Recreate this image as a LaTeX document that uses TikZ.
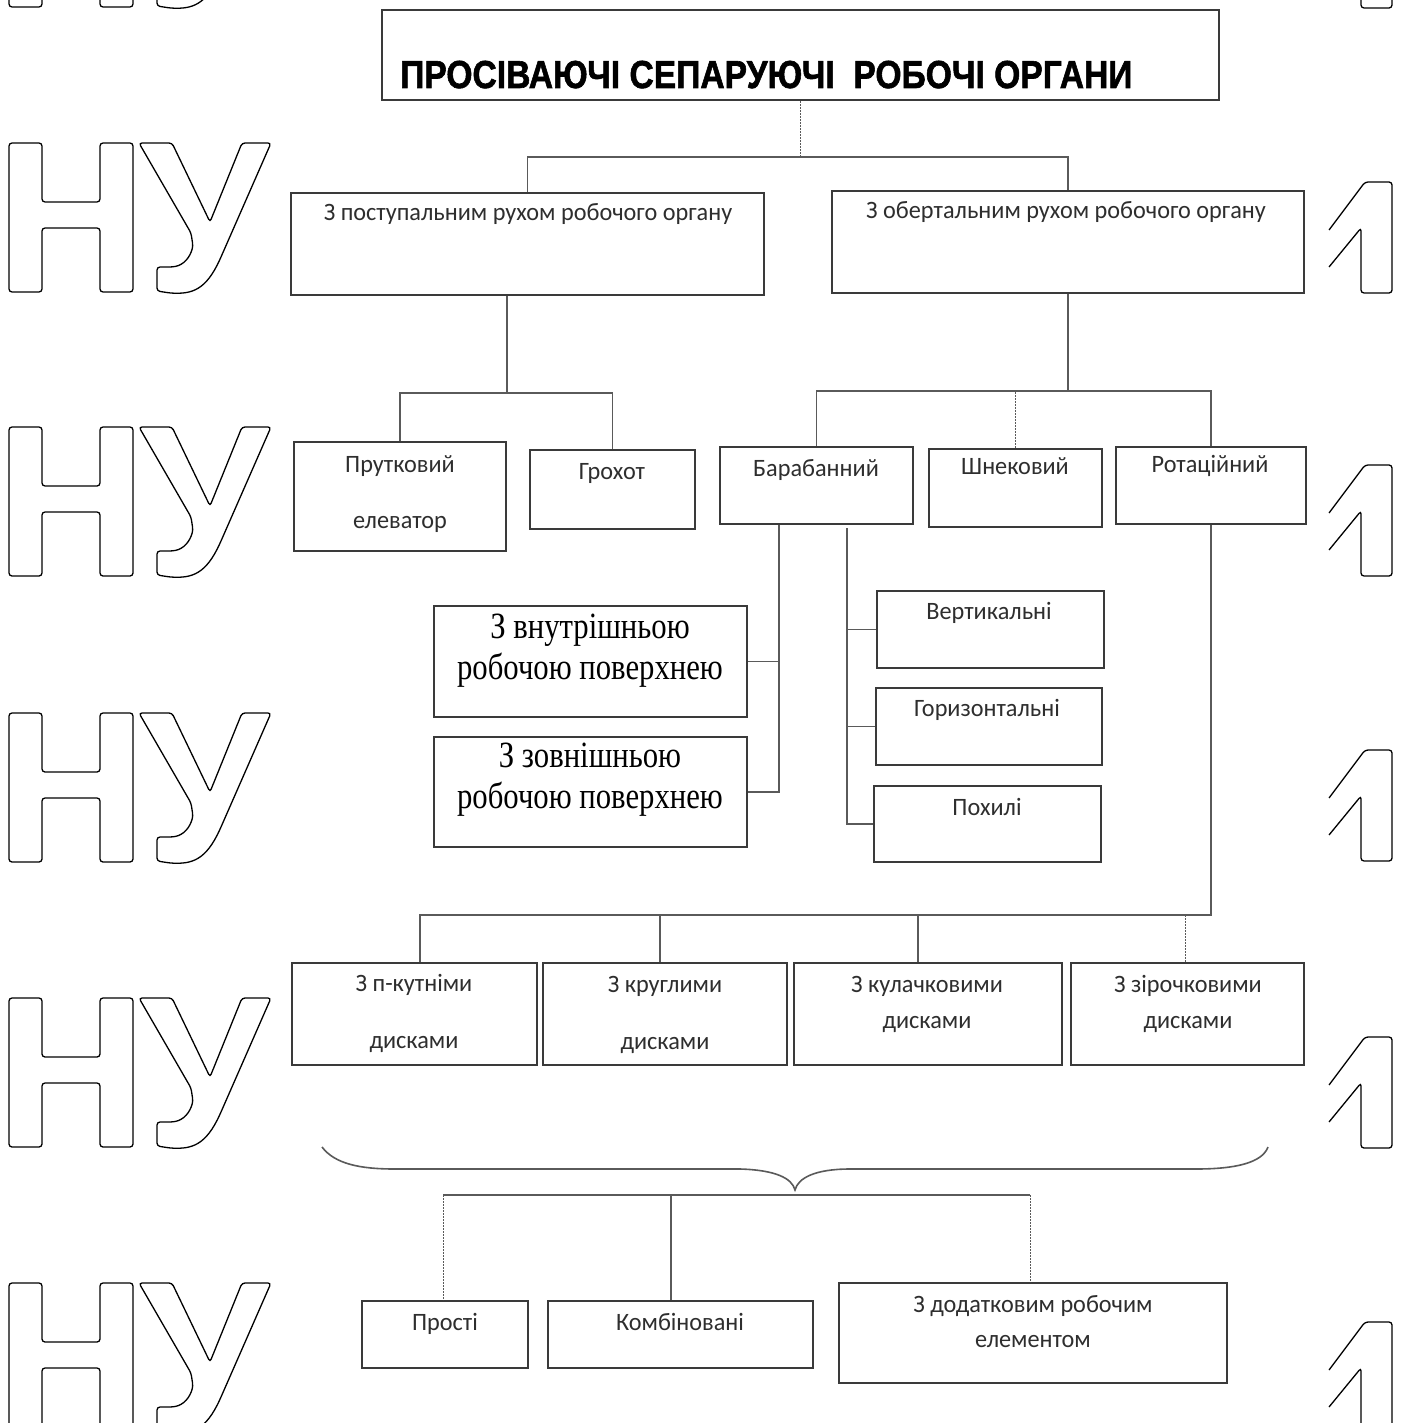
\documentclass[tikz,border=0pt]{standalone}
\usepackage{graphicx}
\usepackage{fontspec}
\setmainfont{Carlito}
\newfontfamily\titlefont{Liberation Sans}[BoldFeatures={FakeBold=1.6}]
\newfontfamily\serffont{Liberation Serif}
\usetikzlibrary{calc}
\definecolor{boxc}{HTML}{3A3A3A}
\definecolor{connc}{HTML}{5A5A5A}
\definecolor{txtc}{HTML}{2E2E2E}
\newcommand\sx[1]{\scalebox{0.97}[1]{#1}}
\newcommand\sr[1]{\scalebox{0.83}[1]{#1}}
\newcommand\mybox[5]{\node[box, minimum width={#4-#2}, minimum height={#5-#3}] (#1) at ({(#2+#4)/2},{(#3+#5)/2}) {};}
\newcommand\wmHU[1]{%
  \draw[wm] (9,#1) -- (42,#1) -- (42,#1+59) -- (100,#1+59) -- (100,#1) -- (133,#1) -- (133,#1+149) -- (100,#1+149) -- (100,#1+85) -- (42,#1+85) -- (42,#1+149) -- (9,#1+149) -- cycle;
  \draw[wm] (139,#1) -- (172,#1) -- (210,#1+79) -- (242,#1) -- (271,#1) -- (221,#1+114) .. controls (206,#1+147) and (192,#1+151) .. (170,#1+150) -- (157,#1+148) -- (157,#1+124) -- (172,#1+124) .. controls (184,#1+122) and (190,#1+114) .. (193,#1+103) -- (191,#1+90) -- cycle;}
\newcommand\wmOne[1]{%
  \draw[wm] (1329,#1+48) -- (1365,#1) -- (1392,#1) -- (1392,#1+111) -- (1361,#1+111) -- (1361,#1+46) -- (1329,#1+85);}
\begin{document}
\begin{tikzpicture}[x=1pt,y=-1pt,
  box/.style={draw=boxc, line width=2pt, inner sep=0pt},
  conn/.style={draw=connc, line width=1.6pt},
  dconn/.style={draw=connc, line width=1pt, dash pattern=on 2pt off 1pt},
  txt/.style={font=\fontsize{25}{28}\selectfont, text=txtc, anchor=mid, inner sep=0pt},
  ser/.style={font=\serffont\fontsize{37}{40}\selectfont, text=black, anchor=mid, inner sep=0pt},
  wm/.style={draw=black, line width=1.3pt, rounded corners=3pt},
  brc/.style={draw=connc, line width=1.6pt}]
\useasboundingbox[fill=white] (0,0) rectangle (1407,1423);

% watermark
\foreach \t in {-142,143,427,713,998,1283} {\wmHU{\t}}
\foreach \t in {-103,182,465,750,1037,1322} {\wmOne{\t}}

% boxes
\mybox{T}{382}{10}{1219}{100}
\mybox{A}{291}{193}{764}{295}
\mybox{B}{832}{191}{1304}{293}
\mybox{P}{294}{442}{506}{551}
\mybox{G}{530}{450}{695}{529}
\mybox{Bar}{720}{447}{913}{524}
\mybox{Shn}{929}{449}{1102}{527}
\mybox{Rot}{1116}{447}{1306}{524}
\mybox{In}{434}{606}{747}{717}
\mybox{Out}{434}{737}{747}{847}
\mybox{Ver}{877}{591}{1104}{668}
\mybox{Hor}{876}{688}{1102}{765}
\mybox{Poh}{874}{786}{1101}{862}
\mybox{D1}{292}{963}{537}{1065}
\mybox{D2}{543}{963}{787}{1065}
\mybox{D3}{794}{963}{1062}{1065}
\mybox{D4}{1071}{963}{1304}{1065}
\mybox{S1}{362}{1301}{528}{1368}
\mybox{S2}{548}{1301}{813}{1368}
\mybox{S3}{839}{1283}{1227}{1383}

% texts
\node[anchor=base west, inner sep=0pt, font=\titlefont\bfseries\fontsize{39}{40}\selectfont] (tT) at (400,88) {\scalebox{0.862}[1]{ПРОСІВАЮЧІ СЕПАРУЮЧІ\ \ РОБОЧІ ОРГАНИ}};
\node[txt] (tA) at (528,218) {\sx{З поступальним рухом робочого органу}};
\node[txt] (tB) at (1066,216) {\sx{З обертальним рухом робочого органу}};
\node[txt] (tP1) at (400,470) {\sx{Прутковий}};
\node[txt] (tP2) at (400,526) {\sx{елеватор}};
\node[txt] (tG) at (612,477) {\sx{Грохот}};
\node[txt] (tBar) at (816,474) {\sx{Барабанний}};
\node[txt] (tShn) at (1015,472) {\sx{Шнековий}};
\node[txt] (tRot) at (1210,470) {\sx{Ротаційний}};
\node[ser] (tIn1) at (590,636) {\sr{З внутрішньою}};
\node[ser] (tIn2) at (590,677) {\sr{робочою поверхнею}};
\node[ser] (tOut1) at (590,765) {\sr{З зовнішньою}};
\node[ser] (tOut2) at (590,806) {\sr{робочою поверхнею}};
\node[txt] (tVer) at (989,617) {\sx{Вертикальні}};
\node[txt] (tHor) at (987,714) {\sx{Горизонтальні}};
\node[txt] (tPoh) at (987,813) {\sx{Похилі}};
\node[txt] (tD1a) at (414,989) {\sx{З п-кутніми}};
\node[txt] (tD1b) at (414,1046) {\sx{дисками}};
\node[txt] (tD2a) at (665,990) {\sx{З круглими}};
\node[txt] (tD2b) at (665,1047) {\sx{дисками}};
\node[txt] (tD3a) at (927,990) {\sx{З кулачковими}};
\node[txt] (tD3b) at (927,1026) {\sx{дисками}};
\node[txt] (tD4a) at (1188,990) {\sx{З зірочковими}};
\node[txt] (tD4b) at (1188,1026) {\sx{дисками}};
\node[txt] (tS1) at (445,1328) {\sx{Прості}};
\node[txt] (tS2) at (680,1328) {\sx{Комбіновані}};
\node[txt] (tS3a) at (1033,1310) {\sx{З додатковим робочим}};
\node[txt] (tS3b) at (1033,1345) {\sx{елементом}};

% connectors
\coordinate (jt) at (800,157);
\draw[dconn] (T.south -| jt) -- (jt);
\draw[conn] (A.north) |- (B.north |- jt) -- (B.north);

\coordinate (ja) at (507,393);
\draw[conn] (A.south -| ja) -- (ja);
\draw[conn] (P.north) |- (G.north |- ja) -- (G.north);

\coordinate (jb) at (1068,391);
\draw[conn] (B.south) -- (jb);
\draw[conn] (Bar.north) |- (Rot.north |- jb) -- (Rot.north);
\draw[dconn] (Shn.north) -- (Shn.north |- jb);

\coordinate (jl) at (779,524);
\draw[conn] (Bar.south -| jl) |- (Out.east);
\draw[conn] (In.east) -- (In.east -| jl);
\coordinate (jr) at (847,528);
\draw[conn] (jr) |- (Poh.west);
\draw[conn] (Ver.west) -- (Ver.west -| jr);
\draw[conn] (Hor.west) -- (Hor.west -| jr);

\coordinate (d1) at (420,915);
\coordinate (d2) at (660,915);
\coordinate (d3) at (918,915);
\coordinate (d4) at (1185,915);
\draw[conn] (Rot.south) |- (d1) -- (D1.north -| d1);
\draw[conn] (d2) -- (D2.north -| d2);
\draw[conn] (d3) -- (D3.north -| d3);
\draw[dconn] (d4) -- (D4.north -| d4);

% brace
\coordinate (bl) at (322,1147);
\coordinate (bt) at (795,1190);
\coordinate (br) at (1268,1147);
\draw[brc] (bl) .. controls (335,1164) and (360,1169) .. (395,1169) -- (740,1169) .. controls (775,1170) and (792,1178) .. (bt) .. controls (798,1178) and (815,1169) .. (850,1169) -- (1196,1169) .. controls (1235,1169) and (1262,1163) .. (br);

\coordinate (e1) at (443,1195);
\coordinate (e2) at (671,1195);
\coordinate (e3) at (1030,1195);
\draw[conn] (e1) -- (e3);
\draw[dconn] (e1) -- (S1.north -| e1);
\draw[conn] (e2) -- (S2.north -| e2);
\draw[dconn] (e3) -- (S3.north -| e3);
\end{tikzpicture}
\end{document}
